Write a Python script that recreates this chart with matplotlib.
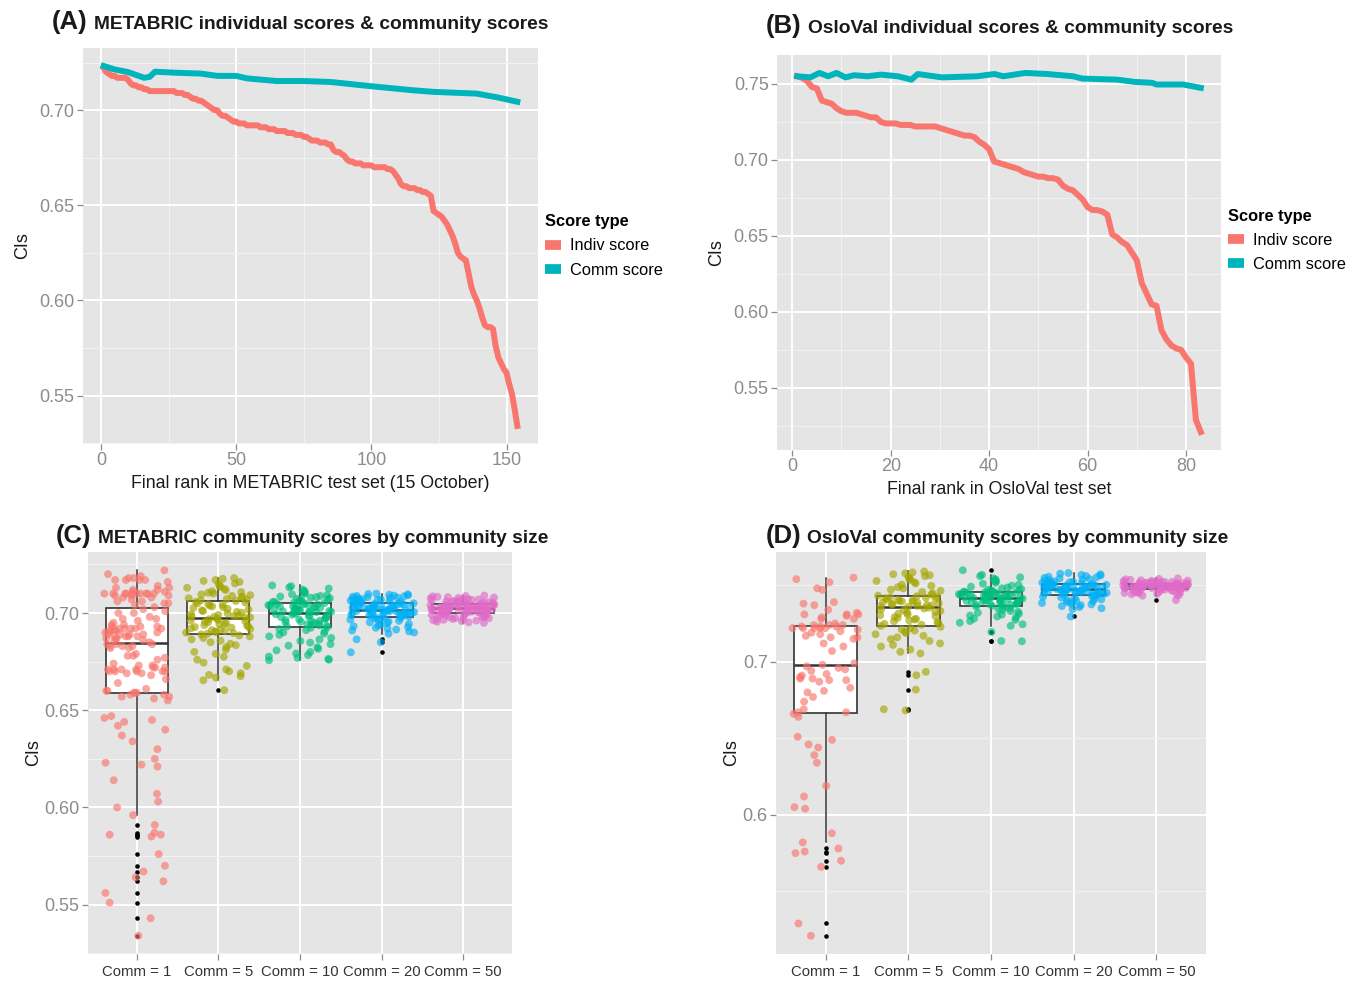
import numpy as np
import matplotlib
matplotlib.use('Agg')
import matplotlib.pyplot as plt
from matplotlib.ticker import MultipleLocator, FormatStrFormatter
from matplotlib.lines import Line2D

plt.rcParams['font.family'] = 'Liberation Sans'

# ---- panel A: METABRIC, individual score at each final rank (1..154)
metabric_indiv = [
    0.722, 0.720, 0.719, 0.718, 0.718, 0.717, 0.717, 0.717, 0.717, 0.716,
    0.714, 0.713, 0.713, 0.712, 0.712, 0.711, 0.711, 0.710, 0.710, 0.710,
    0.710, 0.710, 0.710, 0.710, 0.710, 0.710, 0.710, 0.709, 0.709, 0.709,
    0.708, 0.708, 0.707, 0.706, 0.706, 0.705, 0.705, 0.704, 0.703, 0.702,
    0.701, 0.700, 0.700, 0.698, 0.697, 0.697, 0.696, 0.695, 0.694, 0.694,
    0.693, 0.693, 0.693, 0.692, 0.692, 0.692, 0.692, 0.692, 0.691, 0.691,
    0.691, 0.690, 0.690, 0.690, 0.689, 0.689, 0.689, 0.689, 0.688, 0.688,
    0.688, 0.687, 0.687, 0.687, 0.686, 0.686, 0.685, 0.684, 0.684, 0.684,
    0.683, 0.683, 0.683, 0.682, 0.682, 0.679, 0.678, 0.678, 0.677, 0.676,
    0.674, 0.673, 0.673, 0.672, 0.672, 0.672, 0.671, 0.671, 0.671, 0.671,
    0.670, 0.670, 0.670, 0.670, 0.670, 0.669, 0.669, 0.668, 0.666, 0.664,
    0.661, 0.660, 0.660, 0.659, 0.659, 0.659, 0.658, 0.658, 0.657, 0.657,
    0.656, 0.655, 0.647, 0.646, 0.645, 0.644, 0.642, 0.640, 0.637, 0.634,
    0.630, 0.625, 0.623, 0.622, 0.621, 0.614, 0.607, 0.603, 0.600, 0.596,
    0.591, 0.587, 0.586, 0.586, 0.585, 0.576, 0.570, 0.567, 0.564, 0.562,
    0.556, 0.551, 0.543, 0.534]
metabric_rank = np.arange(1, len(metabric_indiv) + 1)

metabric_comm_rank = [1, 5, 10, 16, 18, 20, 27, 37, 43, 50, 54, 65, 75, 85, 99, 115, 123, 139, 147, 154]
metabric_comm = [0.7232, 0.7214, 0.7200, 0.7170, 0.7175, 0.7202, 0.7197, 0.7192, 0.7180, 0.7180,
                 0.7167, 0.7153, 0.7153, 0.7148, 0.7127, 0.7105, 0.7096, 0.7087, 0.7066, 0.7044]

# ---- panel B: OsloVal, individual score at each final rank (1..83)
oslo_indiv = [
    0.755, 0.754, 0.752, 0.748, 0.747, 0.739, 0.738, 0.737, 0.734, 0.732,
    0.731, 0.731, 0.731, 0.730, 0.729, 0.728, 0.728, 0.725, 0.724, 0.724,
    0.724, 0.723, 0.723, 0.723, 0.722, 0.722, 0.722, 0.722, 0.722, 0.721,
    0.720, 0.719, 0.718, 0.717, 0.716, 0.716, 0.715, 0.712, 0.710, 0.707,
    0.699, 0.698, 0.697, 0.696, 0.695, 0.694, 0.692, 0.691, 0.690, 0.689,
    0.689, 0.688, 0.688, 0.687, 0.683, 0.681, 0.680, 0.677, 0.674, 0.669,
    0.667, 0.667, 0.666, 0.664, 0.651, 0.649, 0.646, 0.644, 0.639, 0.634,
    0.619, 0.612, 0.605, 0.604, 0.588, 0.582, 0.578, 0.576, 0.575, 0.570,
    0.566, 0.529, 0.521]
oslo_rank = np.arange(1, len(oslo_indiv) + 1)

oslo_comm_rank = [1, 3.7, 5.5, 7.3, 9, 10.8, 12.6, 15.3, 18, 21.5, 24.2, 25.5, 30.4, 37.5,
                  41.1, 42.9, 47.3, 51.8, 57.1, 58.9, 66, 69.6, 73.1, 74, 79.4, 83]
oslo_comm = [0.7550, 0.7543, 0.7572, 0.7550, 0.7572, 0.7543, 0.7557, 0.7550, 0.7561, 0.7550,
             0.7528, 0.7565, 0.7543, 0.7550, 0.7565, 0.7550, 0.7572, 0.7565, 0.7550, 0.7535,
             0.7528, 0.7513, 0.7507, 0.7496, 0.7496, 0.7474]

# ---- panels C/D: community scores by community size (units of 1e-4)
comm_labels = ['Comm = 1', 'Comm = 5', 'Comm = 10', 'Comm = 20', 'Comm = 50']

metabric_c5 = [
    7180, 7176, 7170, 7165, 7160, 7152, 7148, 7140, 7135, 7130, 7124, 7118, 7112, 7108, 7104, 7100, 7096, 7092, 7088, 7084, 7080, 7076, 7072, 7068, 7065,
    7062, 7058, 7054, 7050, 7046, 7042, 7038, 7034, 7030, 7026, 7022, 7018, 7014, 7010, 7006, 7002, 6998, 6994, 6990, 6986, 6984, 6982, 6980, 6978, 6976,
    6972, 6968, 6965, 6962, 6958, 6955, 6952, 6948, 6945, 6942, 6938, 6935, 6932, 6928, 6925, 6922, 6918, 6915, 6912, 6908, 6905, 6902, 6899, 6897, 6894,
    6890, 6885, 6880, 6872, 6865, 6858, 6850, 6842, 6835, 6825, 6812, 6800, 6790, 6775, 6760, 6745, 6728, 6710, 6700, 6690, 6682, 6675, 6668, 6654, 6603]
metabric_c10 = [
    7142, 7138, 7132, 7126, 7120, 7114, 7108, 7104, 7100, 7096, 7092, 7088, 7085, 7082, 7079, 7076, 7073, 7070, 7067, 7064, 7061, 7058, 7056, 7054, 7051,
    7049, 7047, 7045, 7043, 7041, 7039, 7037, 7035, 7033, 7031, 7029, 7027, 7025, 7023, 7021, 7019, 7017, 7015, 7013, 7011, 7009, 7007, 7006, 7005, 7003,
    7000, 6997, 6994, 6991, 6988, 6985, 6982, 6979, 6976, 6973, 6970, 6967, 6964, 6961, 6958, 6955, 6952, 6949, 6946, 6943, 6940, 6937, 6934, 6931, 6928,
    6924, 6918, 6912, 6906, 6900, 6894, 6888, 6880, 6872, 6864, 6856, 6848, 6840, 6832, 6824, 6816, 6808, 6800, 6792, 6784, 6776, 6770, 6764, 6760, 6757]
metabric_c20 = [
    7100, 7098, 7096, 7094, 7092, 7090, 7088, 7086, 7084, 7082, 7080, 7078, 7076, 7074, 7072, 7070, 7068, 7066, 7064, 7062, 7060, 7058, 7056, 7054, 7051,
    7050, 7049, 7048, 7046, 7045, 7044, 7042, 7041, 7040, 7038, 7037, 7036, 7034, 7033, 7032, 7030, 7029, 7028, 7026, 7025, 7024, 7023, 7022, 7020, 7019,
    7017, 7016, 7014, 7013, 7011, 7010, 7008, 7007, 7005, 7004, 7002, 7001, 6999, 6998, 6996, 6995, 6993, 6992, 6990, 6989, 6987, 6986, 6984, 6982, 6980,
    6978, 6975, 6972, 6969, 6966, 6963, 6960, 6956, 6952, 6948, 6944, 6940, 6936, 6932, 6928, 6924, 6920, 6915, 6910, 6905, 6900, 6894, 6865, 6850, 6798]
metabric_c50 = [
    7090, 7088, 7086, 7084, 7082, 7080, 7078, 7076, 7074, 7072, 7070, 7068, 7066, 7064, 7062, 7060, 7058, 7057, 7056, 7055, 7054, 7053, 7051, 7050, 7048,
    7047, 7046, 7045, 7044, 7043, 7042, 7041, 7040, 7039, 7038, 7037, 7036, 7035, 7034, 7033, 7032, 7031, 7030, 7030, 7029, 7029, 7028, 7028, 7027, 7027,
    7026, 7025, 7024, 7023, 7022, 7021, 7020, 7019, 7018, 7017, 7016, 7015, 7014, 7013, 7012, 7011, 7010, 7009, 7008, 7007, 7006, 7005, 7004, 7004, 7003,
    7001, 6999, 6997, 6995, 6993, 6991, 6989, 6987, 6985, 6983, 6981, 6979, 6977, 6975, 6973, 6971, 6969, 6967, 6965, 6963, 6961, 6958, 6955, 6952, 6949]

oslo_c5 = [
    7590, 7584, 7578, 7572, 7566, 7560, 7552, 7544, 7536, 7528, 7520, 7512, 7504, 7496, 7488, 7480, 7472, 7464, 7456, 7448, 7440, 7432,
    7428, 7425, 7422, 7418, 7415, 7412, 7408, 7405, 7402, 7398, 7395, 7392, 7388, 7385, 7382, 7378, 7375, 7372, 7368, 7365, 7362, 7360,
    7354, 7348, 7343, 7337, 7332, 7326, 7320, 7315, 7309, 7304, 7298, 7292, 7287, 7281, 7276, 7270, 7264, 7259, 7253, 7248, 7242, 7235,
    7228, 7220, 7212, 7204, 7196, 7188, 7180, 7170, 7160, 7148, 7136, 7120, 7110, 7100, 7080, 7065, 7055, 6934, 6912, 6818, 6690, 6682]
oslo_c10 = [
    7598, 7568, 7560, 7552, 7545, 7538, 7531, 7524, 7517, 7510, 7503, 7497, 7491, 7485, 7480, 7476, 7472, 7468, 7465, 7462, 7460, 7458,
    7456, 7454, 7452, 7450, 7448, 7446, 7444, 7442, 7440, 7438, 7436, 7434, 7432, 7430, 7429, 7428, 7427, 7426, 7425, 7424, 7422, 7421,
    7418, 7416, 7413, 7411, 7408, 7406, 7403, 7401, 7398, 7396, 7393, 7391, 7388, 7386, 7383, 7381, 7378, 7376, 7373, 7371, 7368, 7366,
    7362, 7356, 7350, 7344, 7338, 7332, 7326, 7320, 7314, 7308, 7302, 7296, 7290, 7282, 7274, 7266, 7255, 7245, 7235, 7195, 7136, 7134]
oslo_c20 = [
    7580, 7576, 7572, 7568, 7564, 7560, 7556, 7552, 7548, 7544, 7540, 7536, 7532, 7529, 7526, 7523, 7520, 7518, 7516, 7514, 7512, 7509,
    7507, 7506, 7504, 7503, 7501, 7500, 7498, 7497, 7495, 7494, 7492, 7491, 7489, 7488, 7486, 7485, 7483, 7482, 7480, 7479, 7477, 7476,
    7474, 7472, 7471, 7469, 7467, 7466, 7464, 7462, 7461, 7459, 7457, 7456, 7454, 7452, 7451, 7449, 7447, 7446, 7444, 7442, 7441, 7439,
    7436, 7432, 7428, 7424, 7420, 7416, 7412, 7408, 7404, 7400, 7396, 7392, 7388, 7384, 7380, 7375, 7370, 7364, 7358, 7350, 7344, 7296]
oslo_c50 = [
    7545, 7542, 7539, 7536, 7533, 7531, 7529, 7527, 7525, 7523, 7522, 7521, 7520, 7519, 7518, 7517, 7516, 7515, 7514, 7513, 7513, 7512,
    7511, 7510, 7509, 7508, 7507, 7506, 7505, 7504, 7503, 7502, 7501, 7500, 7499, 7498, 7497, 7497, 7496, 7495, 7495, 7494, 7494, 7493,
    7492, 7491, 7491, 7490, 7489, 7489, 7488, 7487, 7487, 7486, 7485, 7485, 7484, 7483, 7483, 7482, 7481, 7481, 7480, 7479, 7479, 7478,
    7477, 7476, 7474, 7472, 7470, 7468, 7466, 7464, 7462, 7460, 7458, 7456, 7454, 7452, 7450, 7447, 7444, 7441, 7438, 7435, 7432, 7403]

RED = '#F8766D'
TEAL = '#00B4BC'
HUE5 = ['#F8766D', '#A3A500', '#00BF7D', '#00B0F6', '#E06BC8']

W, H = 1370, 981
fig = plt.figure(figsize=(13.7, 9.81), dpi=100)


def rect(x0, y0, x1, y1):
    return [x0 / W, 1 - y1 / H, (x1 - x0) / W, (y1 - y0) / H]


def padded(vals, f=0.05):
    lo, hi = min(vals), max(vals)
    return lo - f * (hi - lo), hi + f * (hi - lo)


def gg(ax):
    ax.set_facecolor('#E5E5E5')
    for s in ax.spines.values():
        s.set_visible(False)
    ax.set_axisbelow(True)
    ax.grid(which='major', color='white', lw=1.4)
    ax.grid(which='minor', color='#F2F2F2', lw=0.8)
    ax.tick_params(which='major', length=4, width=0.9, color='#8C8C8C',
                   labelcolor='#8C8C8C', labelsize=13, pad=2)
    ax.tick_params(which='minor', length=0)


def title(x_tag, x_txt, y, tag, txt):
    fig.text(x_tag / W, 1 - y / H, tag, fontsize=18.5, fontweight='bold', color='#1A1A1A', va='baseline')
    fig.text(x_txt / W, 1 - y / H, txt, fontsize=13.8, fontweight='bold', color='#1A1A1A', va='baseline')


def jitter(n, seed, width=0.4):
    # deterministic hash-based horizontal spread (position only, not data)
    k = np.arange(n) + 1.0
    h = np.sin(k * 12.9898 + seed * 78.233) * 43758.5453
    return (h - np.floor(h) - 0.5) * 2 * width


def line_panel(ax, rank, indiv, crank, comm, xmajor, xlabel, ylegend):
    gg(ax)
    ax.plot(rank, indiv, color=RED, lw=4.3, solid_joinstyle='round', zorder=3)
    ax.plot(crank, comm, color=TEAL, lw=4.3, solid_joinstyle='round', zorder=4)
    ax.set_xlim(*padded(list(rank)))
    ax.set_ylim(*padded(list(indiv) + list(comm)))
    ax.xaxis.set_major_locator(MultipleLocator(xmajor))
    ax.xaxis.set_minor_locator(MultipleLocator(xmajor / 2))
    ax.yaxis.set_major_locator(MultipleLocator(0.05))
    ax.yaxis.set_minor_locator(MultipleLocator(0.025))
    ax.yaxis.set_major_formatter(FormatStrFormatter('%.2f'))
    ax.set_xlabel(xlabel, fontsize=12.8, color='#1A1A1A', labelpad=4)
    ax.set_ylabel('CIs', fontsize=13, color='#1A1A1A', labelpad=6)
    handles = [Line2D([0], [0], color=RED, lw=7, solid_capstyle='butt'),
               Line2D([0], [0], color=TEAL, lw=7, solid_capstyle='butt')]
    ax.legend(handles, ['Indiv score', 'Comm score'], title='Score type',
              loc='center left', bbox_to_anchor=(0.99, ylegend), frameon=False,
              fontsize=11.8, title_fontproperties={'weight': 'bold', 'size': 11.8},
              handlelength=1.0, handletextpad=0.5, labelspacing=0.55, alignment='left',
              borderaxespad=0.3)


def box_panel(ax, groups, ymajor, fmt):
    gg(ax)
    pos = np.arange(1, len(groups) + 1)
    ax.boxplot(groups, positions=pos, widths=0.76, whis=1.5, patch_artist=True,
               showcaps=False, manage_ticks=False,
               boxprops=dict(facecolor='white', edgecolor='#333333', lw=1.2),
               whiskerprops=dict(color='#333333', lw=1.1),
               medianprops=dict(color='#333333', lw=1.8),
               flierprops=dict(marker='o', markerfacecolor='black', markeredgecolor='none', markersize=3.3))
    for i, (p, g, c) in enumerate(zip(pos, groups, HUE5)):
        ax.scatter(p + jitter(len(g), i), g, s=32, color=c, alpha=0.65, edgecolors='none', zorder=3)
    allv = [v for g in groups for v in g]
    ax.set_ylim(*padded(allv))
    ax.set_xlim(0.4, len(groups) + 0.6)
    ax.set_xticks(pos)
    ax.set_xticklabels(comm_labels)
    ax.tick_params(axis='x', labelcolor='#333333', labelsize=10.7, pad=4)
    ax.yaxis.set_major_locator(MultipleLocator(ymajor))
    ax.yaxis.set_minor_locator(MultipleLocator(ymajor / 2))
    ax.yaxis.set_major_formatter(FormatStrFormatter(fmt))
    ax.set_ylabel('CIs', fontsize=13, color='#1A1A1A', labelpad=2)


axA = fig.add_axes(rect(83, 48, 538, 444))
axB = fig.add_axes(rect(777, 55, 1221, 450))
axC = fig.add_axes(rect(88, 552, 512, 954))
axD = fig.add_axes(rect(776, 552, 1206, 954))

line_panel(axA, metabric_rank, metabric_indiv, metabric_comm_rank, metabric_comm, 50,
           'Final rank in METABRIC test set (15 October)', 0.5)
line_panel(axB, oslo_rank, oslo_indiv, oslo_comm_rank, oslo_comm, 20,
           'Final rank in OsloVal test set', 0.53)

c_groups = [metabric_indiv] + [[v / 1e4 for v in g] for g in (metabric_c5, metabric_c10, metabric_c20, metabric_c50)]
d_groups = [oslo_indiv] + [[v / 1e4 for v in g] for g in (oslo_c5, oslo_c10, oslo_c20, oslo_c50)]
box_panel(axC, c_groups, 0.05, '%.2f')
box_panel(axD, d_groups, 0.1, '%.1f')

title(52, 94, 29, '(A)', 'METABRIC individual scores & community scores')
title(766, 808, 33, '(B)', 'OsloVal individual scores & community scores')
title(56, 98, 543, '(C)', 'METABRIC community scores by community size')
title(766, 807, 543, '(D)', 'OsloVal community scores by community size')

fig.savefig('out.png', dpi=100, facecolor='white')
